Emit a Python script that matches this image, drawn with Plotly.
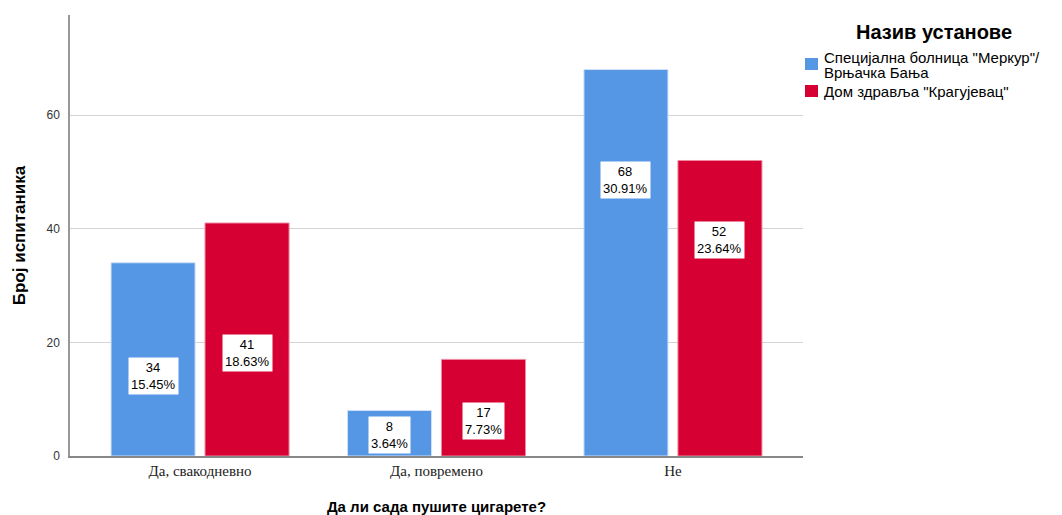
import plotly.graph_objects as go

# Data
categories = ["Да, свакодневно", "Да, повремено", "Не"]
series_names = ['Специјална болница "Меркур"/ Врњачка Бања', 'Дом здравља "Крагујевац"']
merkur_counts = [34, 8, 68]
merkur_pct = ["15.45%", "3.64%", "30.91%"]
kragujevac_counts = [41, 17, 52]
kragujevac_pct = ["18.63%", "7.73%", "23.64%"]
# where SPSS put the white value boxes (in axis units)
merkur_label_y = [14.0, 3.7, 48.5]
kragujevac_label_y = [18.1, 6.2, 38.0]

blue = "#5596e5"
red = "#d60033"

bargap = 0.205
bargroupgap = 0.106
slot = (1 - bargap) / 2  # width of each bar slot in category units

# page body has an 8px margin, so the figure is drawn 8px in from the corner
OFF = 8
W, H = 1062 - OFF, 515 - OFF
l, t = 70 - OFF, 15 - OFF
r = W - (803 - OFF)
b = H - (456 - OFF)
pw, ph = W - l - r, H - t - b


def px(x):
    # screen pixel -> paper x
    return (x - OFF - l) / pw


def py(y):
    # screen pixel -> paper y
    return 1 - (y - OFF - t) / ph


fig = go.Figure()
fig.add_trace(go.Bar(x=categories, y=merkur_counts, name=series_names[0],
                     marker=dict(color=blue, line=dict(color="#cfe0f7", width=1)),
                     showlegend=False))
fig.add_trace(go.Bar(x=categories, y=kragujevac_counts, name=series_names[1],
                     marker=dict(color=red, line=dict(color="#ef8aa2", width=1)),
                     showlegend=False))

# value boxes
for i in range(len(categories)):
    for off, cnt, pct, ly in [(-slot / 2, merkur_counts[i], merkur_pct[i], merkur_label_y[i]),
                              (slot / 2, kragujevac_counts[i], kragujevac_pct[i], kragujevac_label_y[i])]:
        fig.add_annotation(x=i + off, y=ly, xref="x", yref="y",
                           text=f"{cnt}<br>{pct}", showarrow=False,
                           font=dict(family="Liberation Sans, Arial", size=13, color="black"),
                           bgcolor="white", borderpad=2)

# legend built by hand so it sits like the SPSS one
fig.add_annotation(x=px(934), y=py(32), xref="paper", yref="paper", text="<b>Назив установе</b>",
                   showarrow=False, xanchor="center", yanchor="middle",
                   font=dict(family="Liberation Sans, Arial", size=20, color="black"))
legend_rows = [
    (blue, 64, ['Специјална болница "Меркур"/', "Врњачка Бања"]),
    (red, 91, ['Дом здравља "Крагујевац"']),
]
for color, yc, lines in legend_rows:
    fig.add_shape(type="rect", xref="paper", yref="paper",
                  x0=px(805), x1=px(818), y0=py(yc - 6), y1=py(yc + 6),
                  fillcolor=color, line=dict(width=0))
    for k, txt in enumerate(lines):
        ty = yc - 7 + k * 15 if len(lines) > 1 else yc
        fig.add_annotation(x=px(822), y=py(ty), xref="paper", yref="paper",
                           text=txt, showarrow=False, xanchor="left", yanchor="middle",
                           font=dict(family="Liberation Sans, Arial", size=15, color="black"))

fig.update_layout(
    width=W, height=H,
    margin=dict(l=l, r=r, t=t, b=b, autoexpand=False),
    plot_bgcolor="white", paper_bgcolor="white",
    barmode="group", bargap=bargap, bargroupgap=bargroupgap,
    xaxis=dict(
        range=[-0.55, 2.55],
        showline=True, linecolor="#888888", linewidth=1.5,
        tickfont=dict(family="Liberation Serif, Times New Roman", size=15, color="#222"),
        title=dict(text="<b>Да ли сада пушите цигарете?</b>", standoff=24,
                   font=dict(family="Liberation Sans, Arial", size=15, color="black")),
    ),
    yaxis=dict(
        range=[0, 77.6],
        tickvals=[0, 20, 40, 60],
        showgrid=True, gridcolor="#d4d4d4", gridwidth=1,
        zeroline=False,
        showline=True, linecolor="#999999", linewidth=1.5,
        ticklabelstandoff=6,
        tickfont=dict(family="Liberation Sans, Arial", size=12, color="#333"),
        title=dict(text="<b>Број испитаника</b>", standoff=17,
                   font=dict(family="Liberation Sans, Arial", size=17, color="black")),
    ),
)

fig.write_html("out.html")
